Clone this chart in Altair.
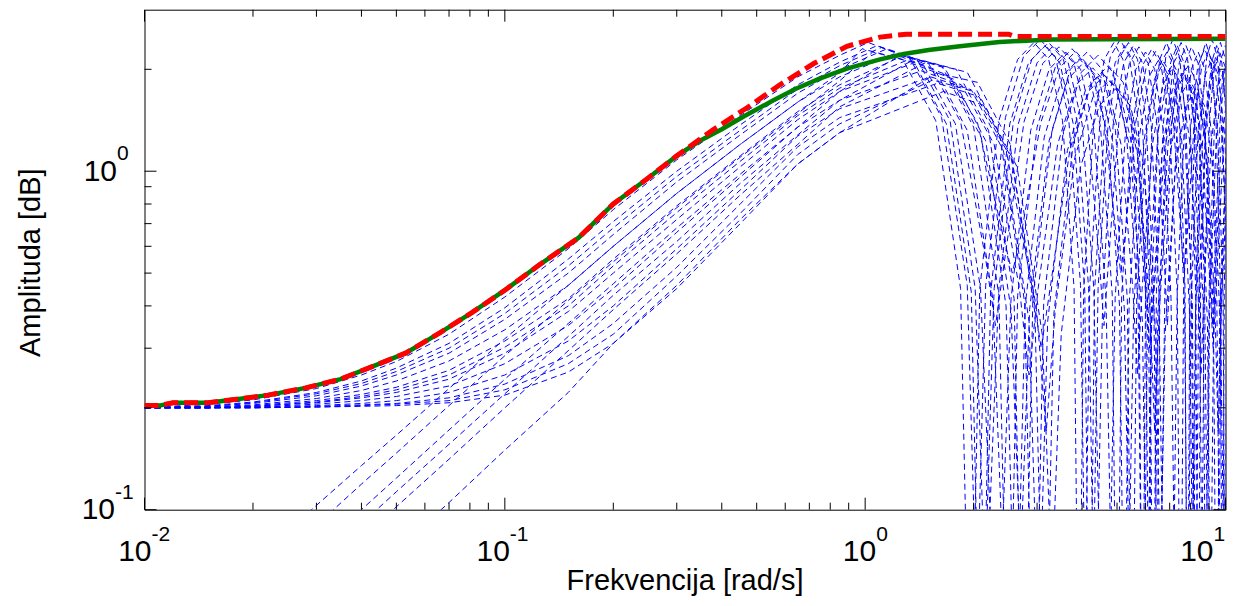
import altair as alt
import pandas as pd

FONT = "Liberation Sans"
W, H = 1081, 500

# ---- shared low-frequency grid (rad/s) ----
X_LO = [0.01, 0.015, 0.02, 0.03, 0.04, 0.05, 0.07, 0.1, 0.15, 0.2, 0.3, 0.45, 0.65]

# ---- blue dashed curves: low-frequency parts (values on X_LO) ----
A1_LO = [0.2, 0.205, 0.211, 0.228, 0.25, 0.274, 0.33, 0.425, 0.59, 0.77, 1.08, 1.46, 1.9]
A2_LO = [0.2, 0.203, 0.208, 0.222, 0.24, 0.262, 0.31, 0.395, 0.55, 0.71, 1.0, 1.37, 1.8]
A11_LO = [0.2, 0.202, 0.207, 0.22, 0.236, 0.256, 0.3, 0.38, 0.525, 0.68, 0.965, 1.32, 1.75]
A3_LO = [0.2, 0.202, 0.206, 0.217, 0.232, 0.25, 0.29, 0.365, 0.5, 0.65, 0.93, 1.28, 1.7]
A4_LO = [0.2, 0.201, 0.204, 0.213, 0.225, 0.24, 0.275, 0.34, 0.46, 0.6, 0.86, 1.2, 1.6]
A5_LO = [0.2, 0.201, 0.203, 0.21, 0.219, 0.23, 0.258, 0.315, 0.42, 0.55, 0.79, 1.11, 1.5]
A12_LO = [0.2, 0.2, 0.202, 0.208, 0.216, 0.226, 0.25, 0.302, 0.4, 0.525, 0.755, 1.07, 1.46]
A6_LO = [0.2, 0.2, 0.202, 0.207, 0.214, 0.222, 0.243, 0.29, 0.385, 0.5, 0.72, 1.03, 1.42]
A7_LO = [0.2, 0.2, 0.201, 0.205, 0.21, 0.216, 0.232, 0.27, 0.35, 0.45, 0.66, 0.96, 1.35]
A8_LO = [0.2, 0.2, 0.201, 0.203, 0.206, 0.21, 0.222, 0.25, 0.315, 0.4, 0.59, 0.88, 1.27]
A9_LO = [0.2, 0.2, 0.2, 0.202, 0.204, 0.206, 0.214, 0.235, 0.285, 0.355, 0.52, 0.8, 1.18]
A13_LO = [0.2, 0.2, 0.2, 0.201, 0.203, 0.205, 0.21, 0.226, 0.27, 0.33, 0.49, 0.75, 1.12]
A10_LO = [0.2, 0.2, 0.2, 0.201, 0.202, 0.203, 0.207, 0.218, 0.255, 0.31, 0.45, 0.7, 1.05]
B1_LO = [0.036, 0.053, 0.07, 0.103, 0.135, 0.166, 0.228, 0.32, 0.46, 0.6, 0.86, 1.2, 1.6]
B2_LO = [0.031, 0.046, 0.061, 0.09, 0.119, 0.147, 0.203, 0.285, 0.415, 0.54, 0.78, 1.1, 1.48]
B3_LO = [0.026, 0.039, 0.051, 0.076, 0.1, 0.124, 0.172, 0.243, 0.355, 0.465, 0.68, 0.98, 1.35]
B6_LO = [0.023, 0.035, 0.046, 0.069, 0.091, 0.113, 0.156, 0.22, 0.325, 0.43, 0.62, 0.92, 1.28]
B4_LO = [0.021, 0.031, 0.042, 0.062, 0.082, 0.102, 0.141, 0.2, 0.295, 0.39, 0.57, 0.85, 1.2]
B5_LO = [0.016, 0.023, 0.031, 0.046, 0.061, 0.076, 0.105, 0.15, 0.222, 0.31, 0.46, 0.72, 1.05]

# ---- blue dashed curves: hump and high-frequency parts ----
A1_HX = [0.85, 1.02, 1.33, 1.63, 1.92, 2.04, 2.16, 2.45, 2.75, 3.06, 3.37, 3.67, 3.96, 4.08,
         4.20, 4.49, 4.79, 5.10, 5.41, 5.71, 6.00, 6.12, 6.24, 6.53, 6.83, 7.14, 7.45, 7.75,
         8.04, 8.16, 8.28, 8.57, 8.87, 9.18, 9.49, 9.79, 10.08]
A1_HY = [2.2, 2.4, 2.16, 1.44, 0.46, 0.05, 0.46, 1.44, 2.18, 2.45, 2.18, 1.44, 0.46, 0.05,
         0.46, 1.44, 2.18, 2.45, 2.18, 1.44, 0.46, 0.05, 0.46, 1.44, 2.18, 2.45, 2.18, 1.44,
         0.46, 0.05, 0.46, 1.44, 2.18, 2.45, 2.18, 1.44, 0.46]
A2_HX = [0.85, 1.08, 1.40, 1.72, 2.02, 2.15, 2.28, 2.58, 2.90, 3.23, 3.55, 3.87, 4.17, 4.30,
         4.43, 4.73, 5.05, 5.38, 5.70, 6.02, 6.32, 6.45, 6.58, 6.88, 7.20, 7.53, 7.85, 8.17,
         8.47, 8.60, 8.73, 9.03, 9.35, 9.68, 10.00, 10.32]
A2_HY = [2.1, 2.35, 2.12, 1.41, 0.45, 0.06, 0.45, 1.41, 2.14, 2.4, 2.14, 1.41, 0.45, 0.06,
         0.45, 1.41, 2.14, 2.4, 2.14, 1.41, 0.45, 0.06, 0.45, 1.41, 2.14, 2.4, 2.14, 1.41,
         0.45, 0.06, 0.45, 1.41, 2.14, 2.4, 2.14, 1.41]
A11_HX = [0.85, 1.11, 1.44, 1.78, 2.09, 2.22, 2.35, 2.66, 3.00, 3.33, 3.66, 4.00, 4.31, 4.44,
          4.57, 4.88, 5.22, 5.55, 5.88, 6.22, 6.53, 6.66, 6.79, 7.10, 7.44, 7.77, 8.10, 8.44,
          8.75, 8.88, 9.01, 9.32, 9.66, 9.99, 10.32]
A11_HY = [2.05, 2.32, 2.09, 1.38, 0.45, 0.1, 0.45, 1.38, 2.09, 2.35, 2.09, 1.38, 0.45, 0.1,
          0.45, 1.38, 2.09, 2.35, 2.09, 1.38, 0.45, 0.1, 0.45, 1.38, 2.09, 2.35, 2.09, 1.38,
          0.45, 0.1, 0.45, 1.38, 2.09, 2.35, 2.09]
A3_HX = [0.85, 1.15, 1.50, 1.84, 2.16, 2.30, 2.44, 2.76, 3.11, 3.45, 3.80, 4.14, 4.46, 4.60,
         4.74, 5.06, 5.41, 5.75, 6.10, 6.44, 6.76, 6.90, 7.04, 7.36, 7.71, 8.05, 8.40, 8.74,
         9.06, 9.20, 9.34, 9.66, 10.01, 10.35]
A3_HY = [2.0, 2.3, 2.08, 1.40, 0.55, 0.35, 0.55, 1.40, 2.08, 2.33, 2.08, 1.40, 0.55, 0.35,
         0.55, 1.40, 2.08, 2.33, 2.08, 1.40, 0.55, 0.35, 0.55, 1.40, 2.08, 2.33, 2.08, 1.40,
         0.55, 0.35, 0.55, 1.40, 2.08, 2.33]
A4_HX = [0.85, 1.20, 1.56, 1.92, 2.26, 2.40, 2.54, 2.88, 3.24, 3.60, 3.96, 4.32, 4.66, 4.80,
         4.94, 5.28, 5.64, 6.00, 6.36, 6.72, 7.06, 7.20, 7.34, 7.68, 8.04, 8.40, 8.76, 9.12,
         9.46, 9.60, 9.74, 10.08]
A4_HY = [1.9, 2.22, 2.0, 1.32, 0.42, 0.08, 0.42, 1.32, 2.0, 2.25, 2.0, 1.32, 0.42, 0.08,
         0.42, 1.32, 2.0, 2.25, 2.0, 1.32, 0.42, 0.08, 0.42, 1.32, 2.0, 2.25, 2.0, 1.32,
         0.42, 0.08, 0.42, 1.32]
A5_HX = [0.85, 1.28, 1.66, 2.05, 2.41, 2.56, 2.71, 3.07, 3.46, 3.84, 4.22, 4.61, 4.97, 5.12,
         5.27, 5.63, 6.02, 6.40, 6.78, 7.17, 7.53, 7.68, 7.83, 8.19, 8.58, 8.96, 9.34, 9.73,
         10.09]
A5_HY = [1.8, 2.2, 2.02, 1.39, 0.65, 0.5, 0.65, 1.39, 2.02, 2.26, 2.02, 1.39, 0.65, 0.5,
         0.65, 1.39, 2.02, 2.26, 2.02, 1.39, 0.65, 0.5, 0.65, 1.39, 2.02, 2.26, 2.02, 1.39,
         0.65]
A12_HX = [0.85, 1.31, 1.70, 2.10, 2.46, 2.62, 2.78, 3.14, 3.54, 3.93, 4.32, 4.72, 5.08, 5.24,
          5.40, 5.76, 6.16, 6.55, 6.94, 7.34, 7.70, 7.86, 8.02, 8.38, 8.78, 9.17, 9.56, 9.96,
          10.32]
A12_HY = [1.76, 2.13, 1.92, 1.26, 0.40, 0.03, 0.40, 1.26, 1.92, 2.15, 1.92, 1.26, 0.40, 0.03,
          0.40, 1.26, 1.92, 2.15, 1.92, 1.26, 0.40, 0.03, 0.40, 1.26, 1.92, 2.15, 1.92, 1.26,
          0.40]
A6_HX = [0.85, 1.35, 1.76, 2.16, 2.54, 2.70, 2.86, 3.24, 3.65, 4.05, 4.46, 4.86, 5.24, 5.40,
         5.56, 5.94, 6.35, 6.75, 7.16, 7.56, 7.94, 8.10, 8.26, 8.64, 9.05, 9.45, 9.86, 10.26]
A6_HY = [1.72, 2.08, 1.87, 1.23, 0.39, 0.07, 0.39, 1.23, 1.87, 2.1, 1.87, 1.23, 0.39, 0.07,
         0.39, 1.23, 1.87, 2.1, 1.87, 1.23, 0.39, 0.07, 0.39, 1.23, 1.87, 2.1, 1.87, 1.23]
A7_HX = [0.85, 1.43, 1.85, 2.28, 2.68, 2.85, 3.02, 3.42, 3.85, 4.28, 4.70, 5.13, 5.53, 5.70,
         5.87, 6.27, 6.70, 7.13, 7.55, 7.98, 8.38, 8.55, 8.72, 9.12, 9.55, 9.98, 10.40]
A7_HY = [1.62, 1.98, 1.8, 1.2, 0.45, 0.25, 0.45, 1.2, 1.8, 2.02, 1.8, 1.2, 0.45, 0.25,
         0.45, 1.2, 1.8, 2.02, 1.8, 1.2, 0.45, 0.25, 0.45, 1.2, 1.8, 2.02, 1.8]
A8_HX = [0.85, 1.52, 1.97, 2.42, 2.85, 3.03, 3.21, 3.64, 4.09, 4.55, 5.00, 5.45, 5.88, 6.06,
         6.24, 6.67, 7.12, 7.58, 8.03, 8.48, 8.91, 9.09, 9.27, 9.70, 10.15]
A8_HY = [1.53, 1.9, 1.74, 1.15, 0.36, 0.04, 0.36, 1.15, 1.74, 1.95, 1.74, 1.15, 0.36, 0.04,
         0.36, 1.15, 1.74, 1.95, 1.74, 1.15, 0.36, 0.04, 0.36, 1.15, 1.74]
A9_HX = [0.85, 1.59, 2.07, 2.54, 2.99, 3.18, 3.37, 3.82, 4.29, 4.77, 5.25, 5.72, 6.17, 6.36,
         6.55, 7.00, 7.47, 7.95, 8.43, 8.90, 9.35, 9.54, 9.73, 10.18]
A9_HY = [1.44, 1.82, 1.66, 1.10, 0.39, 0.17, 0.39, 1.10, 1.66, 1.86, 1.66, 1.10, 0.39, 0.17,
         0.39, 1.10, 1.66, 1.86, 1.66, 1.10, 0.39, 0.17, 0.39, 1.10]
A13_HX = [0.85, 1.54, 2.00, 2.46, 2.90, 3.08, 3.27, 3.70, 4.16, 4.62, 5.08, 5.54, 5.98, 6.16,
          6.35, 6.78, 7.24, 7.70, 8.16, 8.62, 9.06, 9.24, 9.43, 9.86, 10.32]
A13_HY = [1.38, 1.86, 1.72, 1.16, 0.46, 0.3, 0.46, 1.16, 1.72, 1.92, 1.72, 1.16, 0.46, 0.3,
          0.46, 1.16, 1.72, 1.92, 1.72, 1.16, 0.46, 0.3, 0.46, 1.16, 1.72]
A10_HX = [0.85, 1.65, 2.15, 2.64, 3.10, 3.30, 3.50, 3.96, 4.46, 4.95, 5.45, 5.94, 6.40, 6.60,
          6.80, 7.26, 7.76, 8.25, 8.75, 9.24, 9.70, 9.90, 10.10]
A10_HY = [1.3, 1.72, 1.56, 1.03, 0.33, 0.06, 0.33, 1.03, 1.56, 1.75, 1.56, 1.03, 0.33, 0.06,
          0.33, 1.03, 1.56, 1.75, 1.56, 1.03, 0.33, 0.06, 0.33]
B1_HX = [0.85, 0.98, 1.27, 1.57, 1.84, 1.96, 2.08, 2.35, 2.65, 2.94, 3.23, 3.53, 3.80, 3.92,
         4.04, 4.31, 4.61, 4.90, 5.19, 5.49, 5.76, 5.88, 6.00, 6.27, 6.57, 6.86, 7.15, 7.45,
         7.72, 7.84, 7.96, 8.23, 8.53, 8.82, 9.11, 9.41, 9.68, 9.80, 9.92, 10.19]
B1_HY = [1.95, 2.3, 2.14, 1.41, 0.45, 0.02, 0.45, 1.41, 2.14, 2.4, 2.14, 1.41, 0.45, 0.02,
         0.45, 1.41, 2.14, 2.4, 2.14, 1.41, 0.45, 0.02, 0.45, 1.41, 2.14, 2.4, 2.14, 1.41,
         0.45, 0.02, 0.45, 1.41, 2.14, 2.4, 2.14, 1.41, 0.45, 0.02, 0.45, 1.41]
B2_HX = [0.85, 1.05, 1.37, 1.68, 1.97, 2.10, 2.23, 2.52, 2.84, 3.15, 3.47, 3.78, 4.07, 4.20,
         4.33, 4.62, 4.94, 5.25, 5.57, 5.88, 6.17, 6.30, 6.43, 6.72, 7.04, 7.35, 7.67, 7.98,
         8.27, 8.40, 8.53, 8.82, 9.14, 9.45, 9.77, 10.08]
B2_HY = [1.85, 2.25, 2.09, 1.38, 0.44, 0.02, 0.44, 1.38, 2.09, 2.35, 2.09, 1.38, 0.44, 0.02,
         0.44, 1.38, 2.09, 2.35, 2.09, 1.38, 0.44, 0.02, 0.44, 1.38, 2.09, 2.35, 2.09, 1.38,
         0.44, 0.02, 0.44, 1.38, 2.09, 2.35, 2.09, 1.38]
B3_HX = [0.85, 1.25, 1.63, 2.00, 2.35, 2.50, 2.65, 3.00, 3.38, 3.75, 4.13, 4.50, 4.85, 5.00,
         5.15, 5.50, 5.88, 6.25, 6.63, 7.00, 7.35, 7.50, 7.65, 8.00, 8.38, 8.75, 9.13, 9.50,
         9.85, 10.00]
B3_HY = [1.72, 2.2, 2.05, 1.35, 0.43, 0.02, 0.43, 1.35, 2.05, 2.3, 2.05, 1.35, 0.43, 0.02,
         0.43, 1.35, 2.05, 2.3, 2.05, 1.35, 0.43, 0.02, 0.43, 1.35, 2.05, 2.3, 2.05, 1.35,
         0.43, 0.02]
B6_HX = [0.85, 1.38, 1.79, 2.20, 2.59, 2.75, 2.92, 3.30, 3.71, 4.13, 4.54, 4.95, 5.34, 5.50,
         5.67, 6.05, 6.46, 6.88, 7.29, 7.70, 8.09, 8.25, 8.42, 8.80, 9.21, 9.63, 10.04]
B6_HY = [1.62, 2.15, 2.0, 1.32, 0.42, 0.02, 0.42, 1.32, 2.0, 2.25, 2.0, 1.32, 0.42, 0.02,
         0.42, 1.32, 2.0, 2.25, 2.0, 1.32, 0.42, 0.02, 0.42, 1.32, 2.0, 2.25, 2.0]
B4_HX = [0.85, 1.48, 1.92, 2.36, 2.77, 2.95, 3.13, 3.54, 3.98, 4.43, 4.87, 5.31, 5.72, 5.90,
         6.08, 6.49, 6.93, 7.38, 7.82, 8.26, 8.67, 8.85, 9.03, 9.44, 9.88, 10.33]
B4_HY = [1.55, 2.1, 1.96, 1.29, 0.41, 0.02, 0.41, 1.29, 1.96, 2.2, 1.96, 1.29, 0.41, 0.02,
         0.41, 1.29, 1.96, 2.2, 1.96, 1.29, 0.41, 0.02, 0.41, 1.29, 1.96, 2.2]
B5_HX = [0.85, 1.58, 2.05, 2.52, 2.96, 3.15, 3.34, 3.78, 4.25, 4.73, 5.20, 5.67, 6.11, 6.30,
         6.49, 6.93, 7.40, 7.88, 8.35, 8.82, 9.26, 9.45, 9.64, 10.08]
B5_HY = [1.3, 1.95, 1.83, 1.21, 0.38, 0.02, 0.38, 1.21, 1.83, 2.05, 1.83, 1.21, 0.38, 0.02,
         0.38, 1.21, 1.83, 2.05, 1.83, 1.21, 0.38, 0.02, 0.38, 1.21]

# ---- green solid and red dashed curves ----
GREEN_X = [0.01, 0.011, 0.012, 0.015, 0.018, 0.022, 0.028, 0.035, 0.043, 0.053, 0.066, 0.081,
           0.1, 0.125, 0.16, 0.2, 0.25, 0.3, 0.348, 0.4, 0.46, 0.55, 0.64, 0.75, 0.89, 1.1,
           1.28, 1.5, 1.83, 2.36, 3.3, 10]
GREEN_Y = [0.203, 0.203, 0.207, 0.207, 0.212, 0.218, 0.229, 0.243, 0.265, 0.29, 0.333, 0.382,
           0.445, 0.53, 0.635, 0.80, 0.955, 1.11, 1.23, 1.33, 1.45, 1.61, 1.75, 1.88, 2.01, 2.14,
           2.22, 2.28, 2.34, 2.41, 2.45, 2.46]
RED_X = [0.01, 0.011, 0.012, 0.015, 0.018, 0.022, 0.028, 0.035, 0.043, 0.053, 0.066, 0.081,
         0.1, 0.125, 0.16, 0.2, 0.25, 0.3, 0.35, 0.38, 0.47, 0.58, 0.72, 0.89, 1.1, 1.3,
         2.5, 2.6, 10]
RED_Y = [0.203, 0.203, 0.207, 0.207, 0.212, 0.218, 0.229, 0.243, 0.265, 0.29, 0.333, 0.382,
         0.445, 0.53, 0.635, 0.80, 0.955, 1.11, 1.25, 1.33, 1.54, 1.80, 2.08, 2.34, 2.49, 2.54,
         2.54, 2.50, 2.50]

# ---- axis ticks and labels ----
X_MAJOR = [0.01, 0.1, 1, 10]
X_MINOR = [0.02, 0.03, 0.04, 0.05, 0.06, 0.07, 0.08, 0.09,
           0.2, 0.3, 0.4, 0.5, 0.6, 0.7, 0.8, 0.9,
           2, 3, 4, 5, 6, 7, 8, 9]
Y_MAJOR = [0.1, 1]
Y_MINOR = [0.2, 0.3, 0.4, 0.5, 0.6, 0.7, 0.8, 0.9, 2]
X_LABEL_VALUES = [0.01, 0.1, 1, 10]
X_LABEL_EXPS = ["-2", "-1", "0", "1"]
Y_LABEL_VALUES = [0.1, 1]
Y_LABEL_EXPS = ["-1", "0"]
X_TITLE = "Frekvencija [rad/s]"
Y_TITLE = "Amplituda [dB]"

CURVES = [
    ("A1", A1_LO, A1_HX, A1_HY), ("A2", A2_LO, A2_HX, A2_HY), ("A11", A11_LO, A11_HX, A11_HY),
    ("A3", A3_LO, A3_HX, A3_HY), ("A4", A4_LO, A4_HX, A4_HY), ("A5", A5_LO, A5_HX, A5_HY),
    ("A12", A12_LO, A12_HX, A12_HY), ("A6", A6_LO, A6_HX, A6_HY), ("A7", A7_LO, A7_HX, A7_HY),
    ("A8", A8_LO, A8_HX, A8_HY), ("A9", A9_LO, A9_HX, A9_HY), ("A13", A13_LO, A13_HX, A13_HY),
    ("A10", A10_LO, A10_HX, A10_HY), ("B1", B1_LO, B1_HX, B1_HY), ("B2", B2_LO, B2_HX, B2_HY),
    ("B3", B3_LO, B3_HX, B3_HY), ("B6", B6_LO, B6_HX, B6_HY), ("B4", B4_LO, B4_HX, B4_HY),
    ("B5", B5_LO, B5_HX, B5_HY),
]

rows = []
for name, lo, hx, hy in CURVES:
    for i, (xv, yv) in enumerate(zip(X_LO + hx, lo + hy)):
        rows.append({"curve": name, "i": i, "x": xv, "y": yv})
blue_df = pd.DataFrame(rows)
green_df = pd.DataFrame({"x": GREEN_X, "y": GREEN_Y, "i": range(len(GREEN_X))})
red_df = pd.DataFrame({"x": RED_X, "y": RED_Y, "i": range(len(RED_X))})

xs = alt.Scale(type="log", domain=[0.01, 10], nice=False)
ys = alt.Scale(type="log", domain=[0.1, 3], nice=False)
X = alt.X("x:Q", scale=xs, axis=None)
Y = alt.Y("y:Q", scale=ys, axis=None)

blue = alt.Chart(blue_df).mark_line(
    color="#0000ff", strokeWidth=1, strokeDash=[6, 4], clip=True
).encode(x=X, y=Y, detail="curve:N", order="i:Q")

green = alt.Chart(green_df).mark_line(
    color="#008000", strokeWidth=4.5, clip=True
).encode(x=X, y=Y, order="i:Q")

red = alt.Chart(red_df).mark_line(
    color="#ff0000", strokeWidth=5, strokeDash=[14, 6], clip=True
).encode(x=X, y=Y, order="i:Q")

layers = [blue, green, red]

# inner tick marks on all four sides
for vals, ln in ((X_MAJOR, 12), (X_MINOR, 7)):
    d = pd.DataFrame({"v": vals})
    xv = alt.X("v:Q", scale=xs, axis=None)
    layers.append(alt.Chart(d).mark_rule(color="black", strokeWidth=1).encode(
        x=xv, y=alt.value(H), y2=alt.value(H - ln)))
    layers.append(alt.Chart(d).mark_rule(color="black", strokeWidth=1).encode(
        x=xv, y=alt.value(0), y2=alt.value(ln)))
for vals, ln in ((Y_MAJOR, 12), (Y_MINOR, 7)):
    d = pd.DataFrame({"v": vals})
    yv = alt.Y("v:Q", scale=ys, axis=None)
    layers.append(alt.Chart(d).mark_rule(color="black", strokeWidth=1).encode(
        y=yv, x=alt.value(0), x2=alt.value(ln)))
    layers.append(alt.Chart(d).mark_rule(color="black", strokeWidth=1).encode(
        y=yv, x=alt.value(W), x2=alt.value(W - ln)))

# x tick labels: "10" with superscript exponent
X_SHIFT = [7, 5, 11, -12]
for v, e, s in zip(X_LABEL_VALUES, X_LABEL_EXPS, X_SHIFT):
    d = pd.DataFrame({"v": [v], "b": ["10"], "e": [e]})
    xv = alt.X("v:Q", scale=xs, axis=None)
    layers.append(alt.Chart(d).mark_text(
        align="right", baseline="alphabetic", dx=s, fontSize=30, font=FONT, color="black"
    ).encode(x=xv, y=alt.value(551.3), text="b:N"))
    layers.append(alt.Chart(d).mark_text(
        align="left", baseline="alphabetic", dx=s, fontSize=21, font=FONT, color="black"
    ).encode(x=xv, y=alt.value(531.3), text="e:N"))

# y tick labels
Y_RIGHT = [-29.5, -27.5]
for v, e, xr in zip(Y_LABEL_VALUES, Y_LABEL_EXPS, Y_RIGHT):
    d = pd.DataFrame({"v": [v], "b": ["10"], "e": [e]})
    yv = alt.Y("v:Q", scale=ys, axis=None)
    layers.append(alt.Chart(d).mark_text(
        align="right", baseline="alphabetic", dy=9.7, fontSize=30, font=FONT, color="black"
    ).encode(y=yv, x=alt.value(xr), text="b:N"))
    layers.append(alt.Chart(d).mark_text(
        align="left", baseline="alphabetic", dy=-11, fontSize=21, font=FONT, color="black"
    ).encode(y=yv, x=alt.value(xr), text="e:N"))

# axis titles
layers.append(alt.Chart(pd.DataFrame({"t": [X_TITLE]})).mark_text(
    align="center", baseline="alphabetic", fontSize=29, font=FONT, color="black"
).encode(x=alt.value(W / 2), y=alt.value(580), text="t:N"))
layers.append(alt.Chart(pd.DataFrame({"t": [Y_TITLE]})).mark_text(
    align="center", baseline="alphabetic", angle=270, fontSize=29, font=FONT, color="black"
).encode(x=alt.value(-104.5), y=alt.value(253), text="t:N"))

chart = alt.layer(*layers).properties(
    width=W, height=H,
    padding={"left": 136.5, "top": 1.7, "right": 2.5, "bottom": 86.3},
    autosize=alt.AutoSizeParams(type="none"),
    background="white",
).configure_view(stroke="black", strokeWidth=1)

chart.save("out.html", embed_options={"renderer": "svg", "actions": False})
